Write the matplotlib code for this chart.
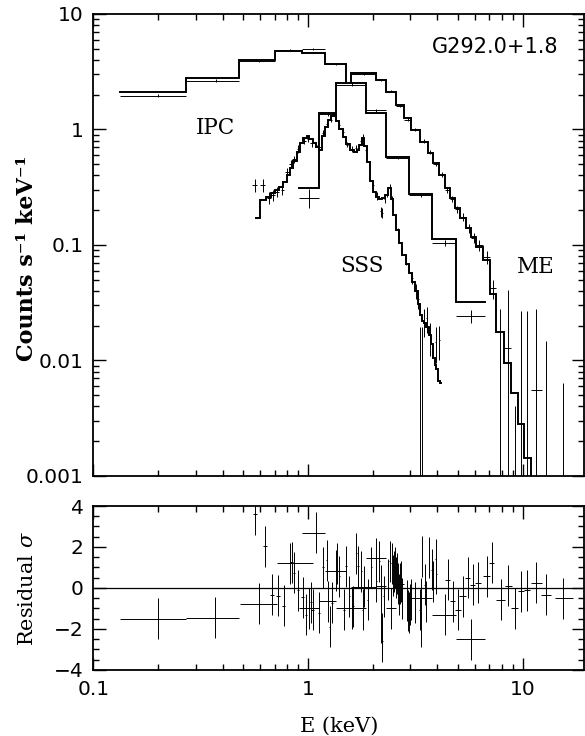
import numpy as np
import matplotlib
matplotlib.use("Agg")
import matplotlib.pyplot as plt
from matplotlib.ticker import LogLocator, MultipleLocator, FuncFormatter, NullFormatter

# ---------------- data ----------------
# IPC (coarse bins, top curve)
ipc_edges = [0.133, 0.270, 0.476, 0.703, 0.94, 1.20, 1.51]
ipc_model = [2.12, 2.81, 4.0, 4.81, 4.57, 3.69]
ipc_e = [0.20, 0.373, 0.594, 0.82, 1.05, 1.35]
ipc_c = [1.96, 2.65, 3.9, 4.85, 4.94, 3.69]
ipc_dc = [0.05, 0.06, 0.08, 0.10, 0.10, 0.08]

# second coarse instrument (0.9 - 6.6 keV)
mpc_edges = [0.906, 1.13, 1.354, 1.867, 2.30, 2.97, 3.79, 4.91, 6.65]
mpc_model = [0.31, 1.39, 2.52, 1.40, 0.581, 0.277, 0.113, 0.0323]
mpc_e = [1.016, 1.24, 1.60, 2.08, 2.64, 3.37, 4.33, 5.77]
mpc_c = [0.255, 1.36, 2.45, 1.47, 0.57, 0.27, 0.104, 0.0243]
mpc_dc = [0.048, 0.05, 0.07, 0.04, 0.02, 0.012, 0.006, 0.003]

# SSS model (bin centres) and data
sss_me = [0.57, 0.62, 0.66, 0.69, 0.72, 0.75, 0.78, 0.81, 0.84, 0.87,
          0.90, 0.93, 0.97, 1.00, 1.03, 1.07, 1.11, 1.14, 1.18, 1.22,
          1.26, 1.30, 1.33, 1.37, 1.42, 1.48, 1.54, 1.60, 1.66, 1.71,
          1.76, 1.80, 1.85, 1.91, 1.97, 2.03, 2.10, 2.18, 2.26, 2.33,
          2.40, 2.46, 2.53, 2.61, 2.70, 2.80, 2.90, 3.00, 3.10, 3.20,
          3.29, 3.36, 3.44, 3.52, 3.61, 3.70, 3.78, 3.86, 3.93, 4.00,
          4.08, 4.17]
sss_model = [0.170, 0.245, 0.26, 0.28, 0.30, 0.32, 0.35, 0.40, 0.46, 0.53,
             0.64, 0.77, 0.84, 0.88, 0.83, 0.77, 0.70, 0.67, 0.88, 1.06,
             1.21, 1.32, 1.36, 1.18, 1.00, 0.86, 0.75, 0.67, 0.64, 0.67,
             0.74, 0.84, 0.72, 0.52, 0.36, 0.29, 0.26, 0.25, 0.255, 0.27,
             0.31, 0.25, 0.18, 0.135, 0.105, 0.082, 0.068, 0.057, 0.048, 0.040,
             0.031, 0.025, 0.022, 0.021, 0.0195, 0.0165, 0.014, 0.0105, 0.0092, 0.0085,
             0.0066, 0.0064]
sss_e = [0.565, 0.615, 0.66, 0.69, 0.72, 0.76, 0.80, 0.83, 0.86, 0.90,
         0.96, 1.00, 1.04, 1.09, 1.13, 1.18, 1.23, 1.28, 1.33, 1.39,
         1.45, 1.52, 1.60, 1.68, 1.76, 1.80, 1.86, 1.94, 2.02, 2.09,
         2.18, 2.21, 2.28, 2.34, 2.40, 2.47, 2.55, 2.64, 2.74, 2.85,
         2.95, 3.06, 3.18, 3.27, 3.33, 3.40, 3.47, 3.58, 3.70, 3.94, 4.10]
sss_c = [0.33, 0.33, 0.255, 0.27, 0.29, 0.30, 0.43, 0.50, 0.55, 0.68,
         0.80, 0.83, 0.76, 0.74, 0.70, 0.93, 1.12, 1.22, 1.38, 1.09,
         0.95, 0.74, 0.68, 0.69, 0.80, 0.86, 0.66, 0.50, 0.33, 0.265,
         0.195, 0.19, 0.25, 0.28, 0.32, 0.25, 0.165, 0.13, 0.092, 0.074,
         0.064, 0.052, 0.040, 0.034, 0.0101, 0.0046, 0.022, 0.0233, 0.016, 0.0145, 0.015]
sss_dc = [0.045, 0.04, 0.03, 0.03, 0.03, 0.03, 0.035, 0.04, 0.04, 0.05,
          0.05, 0.05, 0.05, 0.04, 0.04, 0.05, 0.06, 0.06, 0.06, 0.05,
          0.05, 0.04, 0.04, 0.04, 0.04, 0.05, 0.04, 0.03, 0.025, 0.02,
          0.02, 0.02, 0.02, 0.02, 0.02, 0.015, 0.012, 0.01, 0.008, 0.007,
          0.006, 0.006, 0.006, 0.006, 0.0095, 0.015, 0.006, 0.006, 0.005, 0.005, 0.005]
sss_de = 0.015

# ME
me_edges = [1.59, 2.08, 2.30, 2.56, 2.80, 3.03, 3.31, 3.61, 3.81, 4.10, 4.33,
            4.57, 4.82, 5.09, 5.47, 5.77, 6.08, 6.53, 7.09, 7.54, 8.24, 8.86,
            9.51, 10.14, 10.9]
me_model = [3.10, 2.68, 2.12, 1.63, 1.25, 0.99, 0.78, 0.63, 0.51, 0.40,
            0.31, 0.255, 0.209, 0.171, 0.140, 0.118, 0.097, 0.074, 0.0377,
            0.0177, 0.00946, 0.0052, 0.0028, 0.00144]
me_e = [1.83, 2.19, 2.43, 2.68, 2.91, 3.17, 3.46, 3.71, 3.95, 4.21, 4.45,
        4.69, 4.95, 5.28, 5.62, 5.92, 6.30, 6.81, 7.31, 7.89, 8.55, 9.18,
        9.82, 10.52, 11.6, 12.9, 15.5]
me_c = [3.05, 2.70, 2.15, 1.60, 1.22, 1.00, 0.80, 0.64, 0.50, 0.41, 0.30,
        0.25, 0.205, 0.175, 0.139, 0.115, 0.10, 0.078, 0.042, 0.0, 0.0128, 0.0,
        0.0, 0.0, 0.0056, 0.0, 0.0]
me_dc = [0.06, 0.05, 0.04, 0.035, 0.03, 0.03, 0.03, 0.025, 0.02, 0.02, 0.018,
         0.016, 0.014, 0.013, 0.012, 0.011, 0.011, 0.01, 0.008, 0.028, 0.028, 0.004,
         0.0267, 0.0268, 0.0224, 0.0148, 0.0064]
me_de = [0.24, 0.11, 0.13, 0.12, 0.11, 0.14, 0.15, 0.10, 0.14, 0.11, 0.12,
         0.12, 0.13, 0.19, 0.15, 0.15, 0.22, 0.28, 0.22, 0.35, 0.31, 0.32,
         0.31, 0.38, 0.70, 0.75, 1.3]

# residuals (sigma)
res_e = [0.20, 0.37, 0.59, 0.565, 0.63, 0.68, 0.725, 0.77, 0.82, 0.84,
         0.86, 0.90, 0.944, 0.98, 1.016, 1.03, 1.05, 1.09, 1.13, 1.17,
         1.22, 1.24, 1.26, 1.29, 1.35, 1.36, 1.40, 1.60, 1.47, 1.50,
         1.56, 1.62, 1.68, 1.71, 1.77, 1.80, 1.83, 1.90, 1.97, 2.08,
         2.08, 2.15, 2.19, 2.19, 2.21, 2.22, 2.26, 2.43, 2.36, 2.40,
         2.46, 2.49, 2.52, 2.55, 2.58, 2.61, 2.64, 2.67, 2.68, 2.70,
         2.73, 2.90, 2.93, 2.96, 2.99, 3.02, 3.37, 3.15, 3.31, 3.35,
         3.40, 3.50, 3.55, 3.66, 3.77, 3.82, 3.93, 3.97, 4.33, 4.49,
         4.74, 5.00, 5.26, 5.56, 5.77, 5.85, 6.2, 6.8, 7.2, 7.9,
         8.6, 9.2, 9.8, 10.5, 11.6, 12.9, 15.4]
res_v = [-1.5, -1.45, -0.78, 3.6, 2.04, -0.32, -0.39, -0.87, 1.2, 1.25,
         0.74, -0.1, -0.44, -1.3, -1.0, -0.7, -1.05, 2.7, -1.2, 1.0,
         1.35, -0.65, -1.9, -0.73, 0.85, 1.2, 0.57, -1.0, -1.06, 1.06,
         -0.4, -0.9, 1.7, 1.06, 0.82, -1.06, 0.05, -0.57, 1.0, 1.45,
         0.33, 1.3, 0.1, -1.7, -2.2, -2.6, -0.4, -1.0, 0.4, 1.3,
         1.2, 0.6, 0.8, 1.0, 0.5, 0.7, 0.2, -0.3, 0.2, 0.3,
         -0.5, -0.6, -1.1, -1.2, -0.8, -0.57, -0.5, -0.73, -1.06, -1.9,
         1.55, 0.16, -0.65, 1.47, 0.9, 0.33, 1.4, 0.7, -1.3, 0.4,
         -0.65, -1.06, -0.4, 0.5, -2.5, 0.16, 0.25, 0.57, 1.22, -0.57,
         0.1, -0.98, -0.16, -0.1, 0.25, -0.33, -0.5]
res_dxm = [0.067, 0.10, 0.11, 0.012, 0.012, 0.012, 0.012, 0.012, 0.105, 0.012,
           0.012, 0.012, 0.012, 0.012, 0.11, 0.012, 0.012, 0.15, 0.012, 0.012,
           0.012, 0.11, 0.012, 0.012, 0.15, 0.012, 0.012, 0.25, 0.012, 0.012,
           0.012, 0.012, 0.012, 0.012, 0.012, 0.012, 0.24, 0.012, 0.012, 0.21,
           0.012, 0.012, 0.11, 0.012, 0.012, 0.012, 0.012, 0.13, 0.012, 0.012,
           0.012, 0.012, 0.012, 0.012, 0.012, 0.012, 0.012, 0.012, 0.12, 0.012,
           0.012, 0.012, 0.012, 0.012, 0.012, 0.012, 0.40, 0.012, 0.012, 0.012,
           0.012, 0.012, 0.012, 0.012, 0.012, 0.012, 0.012, 0.012, 0.54, 0.12,
           0.13, 0.15, 0.19, 0.15, 0.86, 0.15, 0.2, 0.25, 0.2, 0.35,
           0.31, 0.32, 0.31, 0.38, 0.7, 0.75, 1.2]
res_dxp = [0.07, 0.106, 0.13, 0.012, 0.012, 0.012, 0.012, 0.012, 0.24, 0.012,
           0.012, 0.012, 0.012, 0.012, 0.114, 0.012, 0.012, 0.11, 0.012, 0.012,
           0.012, 0.114, 0.012, 0.012, 0.16, 0.012, 0.012, 0.27, 0.012, 0.012,
           0.012, 0.012, 0.012, 0.012, 0.012, 0.012, 0.25, 0.012, 0.012, 0.22,
           0.012, 0.012, 0.11, 0.012, 0.012, 0.012, 0.012, 0.13, 0.012, 0.012,
           0.012, 0.012, 0.012, 0.012, 0.012, 0.012, 0.012, 0.012, 0.12, 0.012,
           0.012, 0.012, 0.012, 0.012, 0.012, 0.012, 0.42, 0.012, 0.012, 0.012,
           0.012, 0.012, 0.012, 0.012, 0.012, 0.012, 0.012, 0.012, 0.58, 0.12,
           0.13, 0.15, 0.19, 0.15, 0.88, 0.15, 0.2, 0.25, 0.2, 0.35,
           0.31, 0.32, 0.31, 0.38, 0.7, 0.75, 1.8]
RES_SIGMA = 1.0

XMIN, XMAX = 0.1, 19.35
YMIN, YMAX = 0.001, 10.0


def stairs_xy(edges, vals):
    x = np.repeat(edges, 2)[1:-1]
    y = np.repeat(vals, 2)
    return x, y


plt.rcParams["mathtext.fontset"] = "dejavuserif"

fig = plt.figure(figsize=(5.85, 7.36), dpi=100)
ax = fig.add_axes([0.1598, 0.3533, 0.8385, 0.6277])
axr = fig.add_axes([0.1598, 0.0897, 0.8385, 0.2228])

model_kw = dict(color="black", lw=1.4, solid_joinstyle="miter")
err_kw = dict(fmt="none", ecolor="black", elinewidth=0.7, capsize=0)

# --- top panel: spectra ---
x, y = stairs_xy(ipc_edges, ipc_model)
ax.plot(x, y, **model_kw)
ax.vlines(ipc_edges[-1], mpc_model[2], ipc_model[-1], color="black", lw=1.4)
ax.errorbar(ipc_e, ipc_c, yerr=ipc_dc,
            xerr=[np.subtract(ipc_e, ipc_edges[:-1]), np.subtract(ipc_edges[1:], ipc_e)],
            **err_kw)

x, y = stairs_xy(mpc_edges, mpc_model)
ax.plot(x, y, **model_kw)
ax.errorbar(mpc_e, mpc_c, yerr=mpc_dc,
            xerr=[np.subtract(mpc_e, mpc_edges[:-1]), np.subtract(mpc_edges[1:], mpc_e)],
            **err_kw)

ax.plot(sss_me, sss_model, drawstyle="steps-mid", **model_kw)
ax.errorbar(sss_e, sss_c, yerr=sss_dc, xerr=sss_de, **err_kw)

x, y = stairs_xy(me_edges, me_model)
ax.plot(x, y, **model_kw)
ax.vlines(me_edges[0], mpc_model[2], me_model[0], color="black", lw=1.4)
ax.vlines(me_edges[-1], YMIN * 0.5, me_model[-1], color="black", lw=1.4)
ax.errorbar(me_e, me_c, yerr=me_dc, xerr=me_de, **err_kw)

ax.set_xscale("log")
ax.set_yscale("log")
ax.set_xlim(XMIN, XMAX)
ax.set_ylim(YMIN, YMAX)

lab_kw = dict(family="DejaVu Serif", fontsize=15.5, ha="center", va="center")
ax.text(0.37, 1.03, "IPC", **lab_kw)
ax.text(1.79, 0.066, "SSS", **lab_kw)
ax.text(11.5, 0.064, "ME", **lab_kw)
ax.text(0.947, 0.929, "G292.0+1.8", transform=ax.transAxes, family="DejaVu Sans",
        fontsize=15, ha="right", va="center")

# --- bottom panel: residuals ---
axr.axhline(0, color="black", lw=0.9)
axr.errorbar(res_e, res_v, yerr=RES_SIGMA, xerr=[res_dxm, res_dxp], **err_kw)
axr.set_xscale("log")
axr.set_xlim(XMIN, XMAX)
axr.set_ylim(-4, 4)
axr.yaxis.set_major_locator(MultipleLocator(2))
axr.yaxis.set_minor_locator(MultipleLocator(0.5))

fmt = FuncFormatter(lambda v, p: f"{v:g}".replace("-", "\u2212"))
for a in (ax, axr):
    a.tick_params(which="both", direction="in", top=True, right=True,
                  labelsize=14.5, width=1.0, pad=7)
    a.tick_params(which="major", length=9)
    a.tick_params(which="minor", length=4.5)
    a.xaxis.set_major_locator(LogLocator(base=10, numticks=10))
    a.xaxis.set_minor_locator(LogLocator(base=10, subs=np.arange(2, 10), numticks=20))
    a.xaxis.set_minor_formatter(NullFormatter())
    for s in a.spines.values():
        s.set_linewidth(1.3)
    for lab in a.get_xticklabels() + a.get_yticklabels():
        lab.set_family("DejaVu Sans")

ax.yaxis.set_major_locator(LogLocator(base=10, numticks=10))
ax.yaxis.set_minor_locator(LogLocator(base=10, subs=np.arange(2, 10), numticks=20))
ax.yaxis.set_major_formatter(fmt)
ax.yaxis.set_minor_formatter(NullFormatter())
ax.tick_params(labelbottom=False)
axr.xaxis.set_major_formatter(fmt)
axr.yaxis.set_major_formatter(fmt)

fig.text(0.046, 0.6495, "Counts s\u207b\u00b9 keV\u207b\u00b9", rotation=90, family="DejaVu Serif",
         fontsize=16, fontweight="bold", ha="center", va="center")
fig.text(0.047, 0.20, r"Residual $\sigma$", rotation=90, family="DejaVu Serif",
         fontsize=15, ha="center", va="center")
fig.text(0.58, 0.0136, "E (keV)", family="DejaVu Serif", fontsize=15, ha="center", va="center")

fig.savefig("out.png", dpi=100)
